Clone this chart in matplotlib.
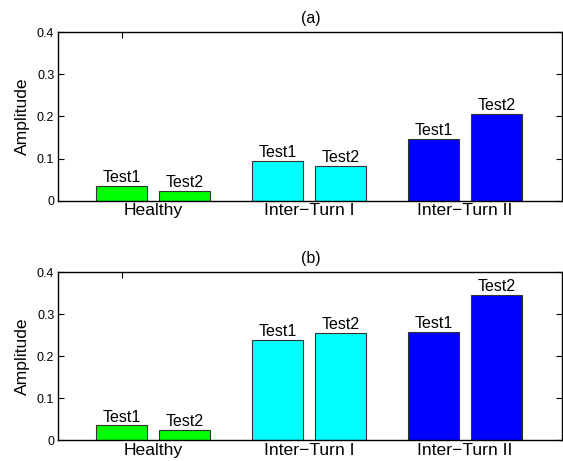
import numpy as np
import matplotlib
matplotlib.use("Agg")
import matplotlib.pyplot as plt

plt.rcParams['font.family'] = ['Liberation Sans', 'DejaVu Sans']

# data
groups = ["Healthy", "Inter\u2212Turn I", "Inter\u2212Turn II"]
test_names = ["Test1", "Test2"]
test1_a = [0.0357, 0.0937, 0.1476]
test2_a = [0.0238, 0.0817, 0.2063]
test1_b = [0.0356, 0.2400, 0.2590]
test2_b = [0.0238, 0.2558, 0.3460]
panel_titles = ["(a)", "(b)"]
colors = ["#00ff00", "#00ffff", "#0000ff"]

fig = plt.figure(figsize=(5.63, 4.61), dpi=100)
ax_a = fig.add_axes([0.1039, 0.5647, 0.895, 0.3653])
ax_b = fig.add_axes([0.1039, 0.0449, 0.895, 0.3644])

x = np.arange(1, len(groups) + 1)
off = 0.202
w = 0.323

for ax, t1, t2, title in [(ax_a, test1_a, test2_a, panel_titles[0]),
                          (ax_b, test1_b, test2_b, panel_titles[1])]:
    for vals, sign, name in [(t1, -1, test_names[0]), (t2, 1, test_names[1])]:
        bars = ax.bar(x + sign * off, vals, width=w, color=colors,
                      edgecolor="#333333", linewidth=0.8)
        for b in bars:
            ax.text(b.get_x() + b.get_width() / 2, b.get_height() + 0.002, name,
                    ha="center", va="bottom", fontsize=11.5)
    ax.set_xlim(0.394, 3.624)
    ax.set_ylim(0, 0.4)
    ax.set_yticks([0, 0.1, 0.2, 0.3, 0.4])
    ax.set_yticklabels(["0", "0.1", "0.2", "0.3", "0.4"])
    ax.set_xticks(x)
    ax.set_xticklabels(groups, fontsize=12.6)
    ax.tick_params(axis="x", length=0, pad=2)
    ax.tick_params(axis="y", direction="in", right=True, length=4, labelsize=9, pad=3)
    ax.set_ylabel("Amplitude", fontsize=12.6, labelpad=5)
    ax.set_title(title, fontsize=11.5, pad=7)
    top = ax.secondary_xaxis("top")
    top.set_xticks([x[0] - off])
    top.set_xticklabels([])
    top.tick_params(direction="in", length=4)
    top.spines["top"].set_visible(False)
    for s in ax.spines.values():
        s.set_linewidth(1.0)

fig.savefig("out.png", dpi=100)
